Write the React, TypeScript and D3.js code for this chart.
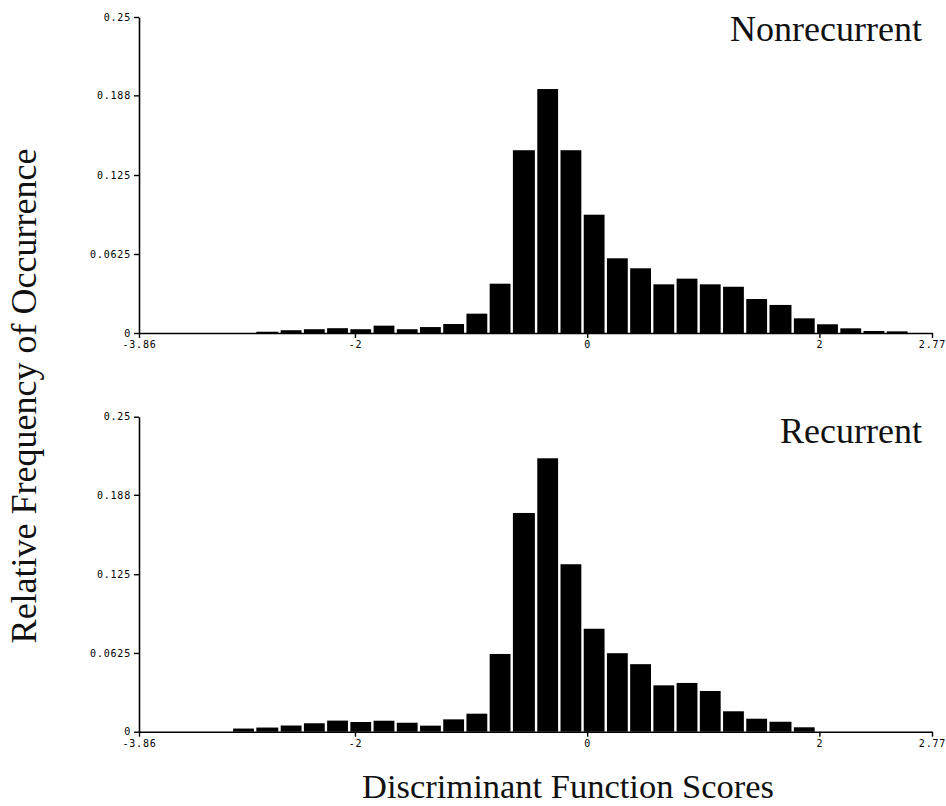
import { useEffect, useRef } from "react"
import * as d3 from "d3"

// lower edges of the 33 histogram bins (last bin ends at 2.77)
const binStarts = [
  -3.86, -3.66, -3.46, -3.26, -3.06, -2.86, -2.65, -2.45, -2.25, -2.05,
  -1.85, -1.65, -1.45, -1.25, -1.05, -0.85, -0.65, -0.44, -0.24, -0.04,
  0.16, 0.36, 0.56, 0.76, 0.96, 1.16, 1.36, 1.56, 1.77, 1.97,
  2.17, 2.37, 2.57,
]
const binEnd = 2.77

const nonrecurrent = [
  0, 0, 0, 0, 0, 0.001, 0.0022, 0.003, 0.0038, 0.003,
  0.0058, 0.003, 0.0047, 0.0071, 0.0153, 0.039, 0.1446, 0.193, 0.1446, 0.0936,
  0.0591, 0.0512, 0.0385, 0.043, 0.0385, 0.0366, 0.0269, 0.0222, 0.0116, 0.0069,
  0.0037, 0.0016, 0.0013,
]

const recurrent = [
  0, 0, 0, 0, 0.0025, 0.0033, 0.0049, 0.0067, 0.0088, 0.0077,
  0.0087, 0.0071, 0.0048, 0.0098, 0.0143, 0.0617, 0.1736, 0.217, 0.1329, 0.0817,
  0.0623, 0.0536, 0.0368, 0.0387, 0.0323, 0.0162, 0.0103, 0.0079, 0.0035, 0,
  0, 0, 0,
]

// axis runs one bin past the data, but its end tick is labelled 2.77
const xTickValues = [-3.86, -2, 0, 2, 2.97]
const xTickLabels = ["-3.86", "-2", "0", "2", "2.77"]
const yTickValues = [0, 0.0625, 0.125, 0.188, 0.25]
const yTickLabels = ["0", "0.0625", "0.125", "0.188", "0.25"]

const W = 946
const H = 806
const tickFont = "'DejaVu Sans Mono', monospace"
const serif = "'Liberation Serif', 'Times New Roman', serif"

export default function App() {
  const svgRef = useRef<SVGSVGElement>(null)

  useEffect(() => {
    if (!svgRef.current) return
    const svg = d3.select(svgRef.current)
    svg.selectAll("*").remove()

    const x = d3.scaleLinear().domain([-3.86, 2.97]).range([139, 932])

    const panels = [
      { title: "Nonrecurrent", values: nonrecurrent, top: 17, bottom: 333, titleY: 41 },
      { title: "Recurrent", values: recurrent, top: 416.7, bottom: 731.7, titleY: 443 },
    ]

    panels.forEach(p => {
      const y = d3.scaleLinear().domain([0, 0.25]).range([p.bottom, p.top])
      const g = svg.append("g")

      // Bars
      g.selectAll("rect")
        .data(p.values.map((v, i) => ({
          lo: binStarts[i],
          hi: i + 1 < binStarts.length ? binStarts[i + 1] : binEnd,
          v,
        })).filter(d => d.v > 0))
        .enter()
        .append("rect")
        .attr("x", d => x(d.lo) + 1.2)
        .attr("width", d => x(d.hi) - x(d.lo) - 2.4)
        .attr("y", d => y(d.v))
        .attr("height", d => p.bottom - y(d.v))
        .attr("fill", "#000")

      // Y axis
      const yAxis = g.append("g")
        .attr("transform", `translate(${x(-3.86)},0)`)
        .call(
          d3.axisLeft(y)
            .tickValues(yTickValues)
            .tickFormat((_, i) => yTickLabels[i])
            .tickSize(5)
            .tickSizeOuter(0)
            .tickPadding(3)
        )
      yAxis.select(".domain").attr("stroke", "#000").attr("stroke-width", 1.6)
      yAxis.selectAll(".tick line").attr("stroke", "#000").attr("stroke-width", 1.4)
      yAxis.selectAll("text")
        .style("font-family", tickFont)
        .style("font-size", "10px")
        .style("letter-spacing", "0.8px")
        .attr("fill", "#000")

      // X axis
      const xAxis = g.append("g")
        .attr("transform", `translate(0,${p.bottom})`)
        .call(
          d3.axisBottom(x)
            .tickValues(xTickValues)
            .tickFormat((_, i) => xTickLabels[i])
            .tickSize(5)
            .tickSizeOuter(0)
            .tickPadding(3)
        )
      xAxis.select(".domain").attr("stroke", "#000").attr("stroke-width", 1.6)
      xAxis.selectAll(".tick line").attr("stroke", "#000").attr("stroke-width", 1.4)
      xAxis.selectAll("text")
        .style("font-family", tickFont)
        .style("font-size", "10px")
        .style("letter-spacing", "0.8px")
        .attr("fill", "#000")

      // Panel title
      g.append("text")
        .attr("x", 922)
        .attr("y", p.titleY)
        .attr("text-anchor", "end")
        .style("font-family", serif)
        .style("font-size", "36px")
        .attr("fill", "#111")
        .text(p.title)
    })

    // Shared axis titles
    svg.append("text")
      .attr("transform", "translate(36,396) rotate(-90)")
      .attr("text-anchor", "middle")
      .style("font-family", serif)
      .style("font-size", "36px")
      .attr("fill", "#111")
      .text("Relative Frequency of Occurrence")

    svg.append("text")
      .attr("x", 568)
      .attr("y", 798)
      .attr("text-anchor", "middle")
      .style("font-family", serif)
      .style("font-size", "34.5px")
      .attr("fill", "#111")
      .text("Discriminant Function Scores")
  }, [])

  return (
    <svg
      ref={svgRef}
      width={W}
      height={H}
      style={{ position: "absolute", left: 0, top: 0, background: "#fff" }}
    />
  )
}
